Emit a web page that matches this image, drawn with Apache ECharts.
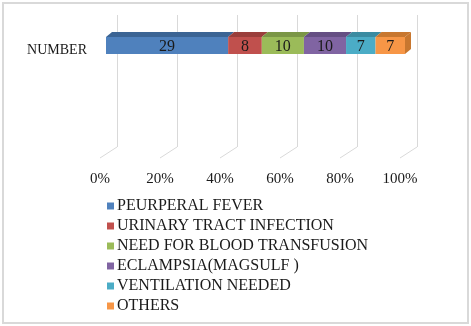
<!DOCTYPE html>
<html>
<head>
<meta charset="utf-8">
<script src="https://cdn.jsdelivr.net/npm/echarts@6/dist/echarts.min.js"></script>
<style>
  html, body { margin: 0; padding: 0; background: #fff; }
</style>
</head>
<body>
<div id="main" style="width: 471px;height: 326px;"></div>
<script>
// data
const categories = ['NUMBER'];
const seriesNames = ['PEURPERAL FEVER', 'URINARY TRACT INFECTION', 'NEED FOR BLOOD TRANSFUSION',
  'ECLAMPSIA(MAGSULF )', 'VENTILATION NEEDED', 'OTHERS'];
const counts = [29, 8, 10, 10, 7, 7];
const tickValues = [0, 20, 40, 60, 80, 100];

const frontColors = ['#4F81BD', '#C0504D', '#9BBB59', '#8064A2', '#4BACC6', '#F79646'];
const topColors = ['#3B6494', '#9A3E3B', '#7B9646', '#654F83', '#3A8BA1', '#C8772F'];
const FONT = '"Liberation Serif", "Times New Roman", serif';

const total = counts.reduce((a, b) => a + b, 0);
let acc = 0;
const segments = counts.map(c => {
  const s = acc / total * 100;
  acc += c;
  return [s, acc / total * 100, c];
});

var myChart = echarts.init(document.getElementById('main'));

function barRender(idx) {
  return function (params, api) {
    const s = api.value(0), e = api.value(1);
    const p0 = api.coord([s, 0]);
    const p1 = api.coord([e, 0]);
    const h = api.size([0, 1])[1];
    const y0 = p0[1] - h / 2, y1 = p0[1] + h / 2;
    const dx = 6, dy = 5;
    const children = [
      {
        type: 'rect',
        shape: { x: p0[0], y: y0, width: p1[0] - p0[0], height: h },
        style: { fill: frontColors[idx] }
      },
      {
        type: 'polygon',
        shape: { points: [[p0[0], y0], [p1[0], y0], [p1[0] + dx, y0 - dy], [p0[0] + dx, y0 - dy]] },
        style: { fill: topColors[idx] }
      },
      {
        type: 'text',
        style: {
          text: String(api.value(2)),
          x: (p0[0] + p1[0]) / 2, y: p0[1] + 1,
          align: 'center', verticalAlign: 'middle',
          font: '16px ' + FONT, fill: '#1a1a1a'
        }
      }
    ];
    if (e >= 99.99) {
      children.push({
        type: 'polygon',
        shape: { points: [[p1[0], y0], [p1[0] + dx, y0 - dy], [p1[0] + dx, y1 - dy], [p1[0], y1]] },
        style: { fill: topColors[idx] }
      });
    }
    return { type: 'group', children: children };
  };
}

let option = {
  animation: false,
  color: frontColors,
  graphic: [{
    type: 'rect',
    shape: { x: 3, y: 3, width: 465, height: 320 },
    style: { fill: 'none', stroke: '#d9d9d9', lineWidth: 2 },
    silent: true
  }],
  legend: {
    orient: 'vertical',
    left: 102,
    top: 193,
    itemWidth: 7,
    itemHeight: 7,
    itemGap: 4,
    icon: 'rect',
    data: seriesNames.map((n, i) => ({ name: n, itemStyle: { color: frontColors[i] } })),
    textStyle: { fontFamily: FONT, fontSize: 16, color: '#1a1a1a', padding: [0, 0, 0, -2] }
  },
  grid: [
    { left: 117, top: 15, width: 300, height: 132 },   // back wall
    { left: 100, top: 158, width: 300, height: 1 },    // floor front edge / labels
    { left: 106, top: 37, width: 299, height: 17 }     // bar
  ],
  xAxis: [
    {
      gridIndex: 0, type: 'value', min: 0, max: 100, interval: 20,
      axisLine: { show: false }, axisTick: { show: false }, axisLabel: { show: false },
      splitLine: { show: true, lineStyle: { color: '#d9d9d9', width: 1 } }
    },
    {
      gridIndex: 1, type: 'value', min: 0, max: 100, interval: 20,
      axisLine: { show: false }, axisTick: { show: false }, splitLine: { show: false },
      axisLabel: { formatter: '{value}%', margin: 13, fontFamily: FONT, fontSize: 15, color: '#1a1a1a' }
    },
    {
      gridIndex: 2, type: 'value', min: 0, max: 100, show: false
    }
  ],
  yAxis: [
    { gridIndex: 0, type: 'category', data: categories, show: false },
    { gridIndex: 1, type: 'category', data: [''], show: false },
    {
      gridIndex: 2, type: 'category', data: categories,
      axisLine: { show: false }, axisTick: { show: false },
      axisLabel: {
        margin: 19,
        formatter: '{a|{value}}',
        rich: { a: { fontFamily: FONT, fontSize: 14, color: '#1a1a1a', padding: [10, 0, 0, 0] } }
      }
    }
  ],
  series: [
    {
      name: 'floor',
      type: 'custom',
      xAxisIndex: 0, yAxisIndex: 0,
      silent: true,
      data: tickValues.map(v => [v]),
      renderItem(params, api) {
        const cs = params.coordSys;
        const x = api.coord([api.value(0), 0])[0];
        const yb = cs.y + cs.height;
        return {
          type: 'line',
          shape: { x1: x, y1: yb, x2: x - 17, y2: yb + 11 },
          style: { stroke: '#d9d9d9', lineWidth: 1 }
        };
      }
    }
  ].concat(seriesNames.map((n, i) => ({
    name: n,
    type: 'custom',
    xAxisIndex: 2, yAxisIndex: 2,
    itemStyle: { color: frontColors[i] },
    encode: { x: [0, 1], y: 3 },
    data: [[segments[i][0], segments[i][1], segments[i][2], 0]],
    renderItem: barRender(i)
  })))
};
option && myChart.setOption(option);
</script>
</body>
</html>
